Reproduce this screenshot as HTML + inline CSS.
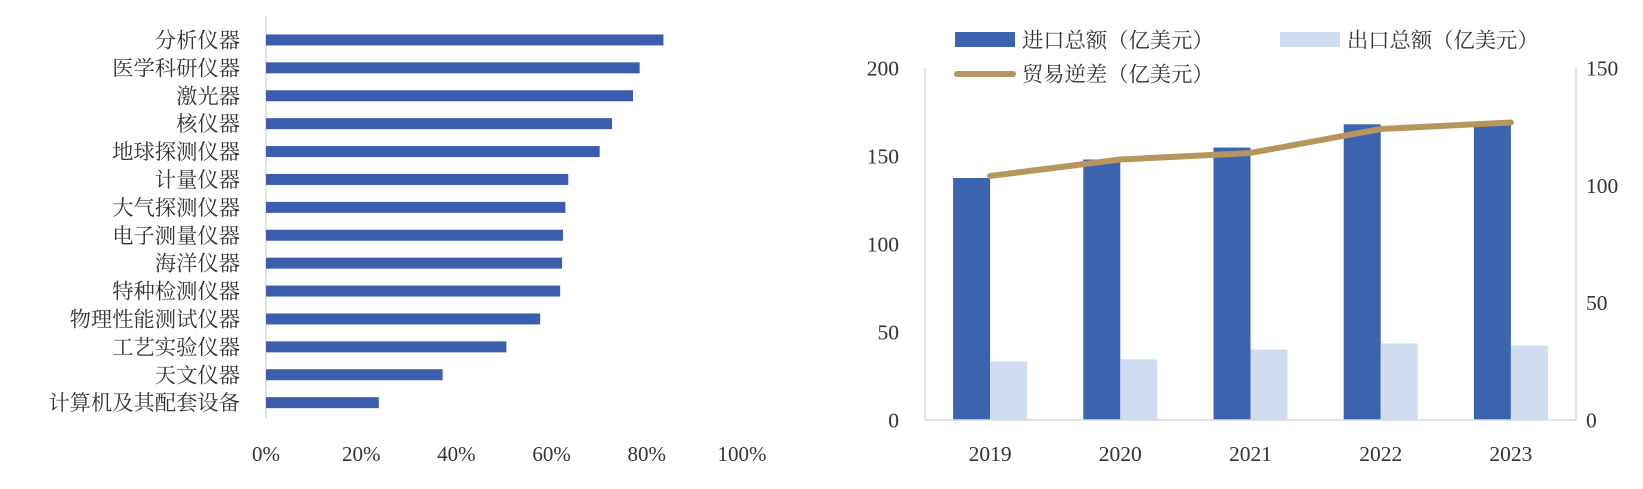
<!DOCTYPE html>
<html><head><meta charset="utf-8"><style>
body{margin:0;background:#fff;width:1643px;height:484px;overflow:hidden}
svg text{font-family:"Liberation Serif","Noto Serif CJK SC",serif;fill:#333}
</style></head><body>
<svg id="c" width="1643" height="484"></svg>
<script>
const cats=["分析仪器","医学科研仪器","激光器","核仪器","地球探测仪器","计量仪器","大气探测仪器","电子测量仪器","海洋仪器","特种检测仪器","物理性能测试仪器","工艺实验仪器","天文仪器","计算机及其配套设备"];
const shares=[83.5,78.5,77.1,72.7,70.1,63.5,62.9,62.4,62.2,61.8,57.6,50.5,37.1,23.7];
const xTicks=[0,20,40,60,80,100];
const years=["2019","2020","2021","2022","2023"];
const imports=[137.5,148,154.8,168,169];
const exportsV=[33.3,34.5,40,43.5,42.3];
const deficit=[104,111,113.8,124,126.8];
const leftTicks=[0,50,100,150,200];
const rightTicks=[0,50,100,150];
const NS="http://www.w3.org/2000/svg";
const svg=document.getElementById('c');
function mk(t,a,p){const e=document.createElementNS(NS,t);for(const k in a)e.setAttribute(k,a[k]);(p||svg).appendChild(e);return e;}
// left chart
const lx0=266,lx1=742,ly0=26,rowH=27.9;
const lx=v=>lx0+(lx1-lx0)*v/100;
const gL=mk('g',{});


let a=mk('line',{x1:lx0,x2:lx0,y1:16,y2:418,stroke:'#d9d9d9','stroke-width':1.5},gL);


cats.forEach((c,i)=>{
  const cy=ly0+rowH*(i+0.5);
  const r=mk('rect',{x:lx0,y:cy-5.5,width:lx(shares[i])-lx0,height:11,fill:'#3A5DAE'},gL);
  
  
  const t=mk('text',{x:240,y:cy+7.5,'text-anchor':'end','font-size':21.3},gL);t.textContent=c;
  
  
});
xTicks.forEach(v=>{
  const t=mk('text',{x:lx(v),y:461,'text-anchor':'middle','font-size':21},gL);t.textContent=v+'%';
  
  
});
// right chart
const px0=925,px1=1576,py0=420,pyT=68;
const yL=v=>py0-(py0-pyT)*v/200;
const yR=v=>py0-(py0-pyT)*v/150;
const band=(px1-px0)/years.length;
const gR=mk('g',{});


let ax=mk('line',{x1:px0,x2:px0,y1:pyT,y2:py0,stroke:'#d9d9d9','stroke-width':1.5},gR);


ax=mk('line',{x1:px1,x2:px1,y1:pyT,y2:py0,stroke:'#d9d9d9','stroke-width':1.5},gR);


leftTicks.forEach(v=>{
  const t=mk('text',{x:899,y:yL(v)+7.5,'text-anchor':'end','font-size':21.5},gR);t.textContent=v;
  
  
});
rightTicks.forEach(v=>{
  const t=mk('text',{x:1586,y:yR(v)+7.5,'text-anchor':'start','font-size':21.5},gR);t.textContent=v;
  
  
});
const bw=37,pts=[];
years.forEach((y,i)=>{
  const cx=px0+band*(i+0.5);
  let r=mk('rect',{x:cx-bw,y:yL(imports[i]),width:bw,height:py0-yL(imports[i]),fill:'#3A64AD'},gR);
  
  
  r=mk('rect',{x:cx,y:yL(exportsV[i]),width:bw,height:py0-yL(exportsV[i]),fill:'#D0DCEF'},gR);
  
  
  const t=mk('text',{x:cx,y:461,'text-anchor':'middle','font-size':21.5},gR);t.textContent=y;
  
  
  pts.push(cx+','+yR(deficit[i]));
});
ax=mk('line',{x1:px0,x2:px1,y1:py0,y2:py0,stroke:'#d9d9d9','stroke-width':1.5},gR);


const pl=mk('polyline',{points:pts.join(' '),fill:'none',stroke:'#B8955F','stroke-width':6,'stroke-linecap':'round','stroke-linejoin':'round'},gR);


// legend
function leg(kind,x,y,color,label,name){
  const g=mk('g',{});
  
  
  if(kind==='rect')mk('rect',{x:x,y:y-8,width:60,height:15,fill:color},g);
  else mk('line',{x1:x+2,x2:x+58,y1:y,y2:y,stroke:color,'stroke-width':6,'stroke-linecap':'round'},g);
  const t=mk('text',{x:x+67,y:y+7.5,'font-size':21.3},g);t.textContent=label;
}
leg('rect',955,40,'#3A64AD','进口总额（亿美元）','legend-import');
leg('rect',1280,40,'#D0DCEF','出口总额（亿美元）','legend-export');
leg('line',955,74,'#B8955F','贸易逆差（亿美元）','legend-deficit');
</script>
</body></html>
